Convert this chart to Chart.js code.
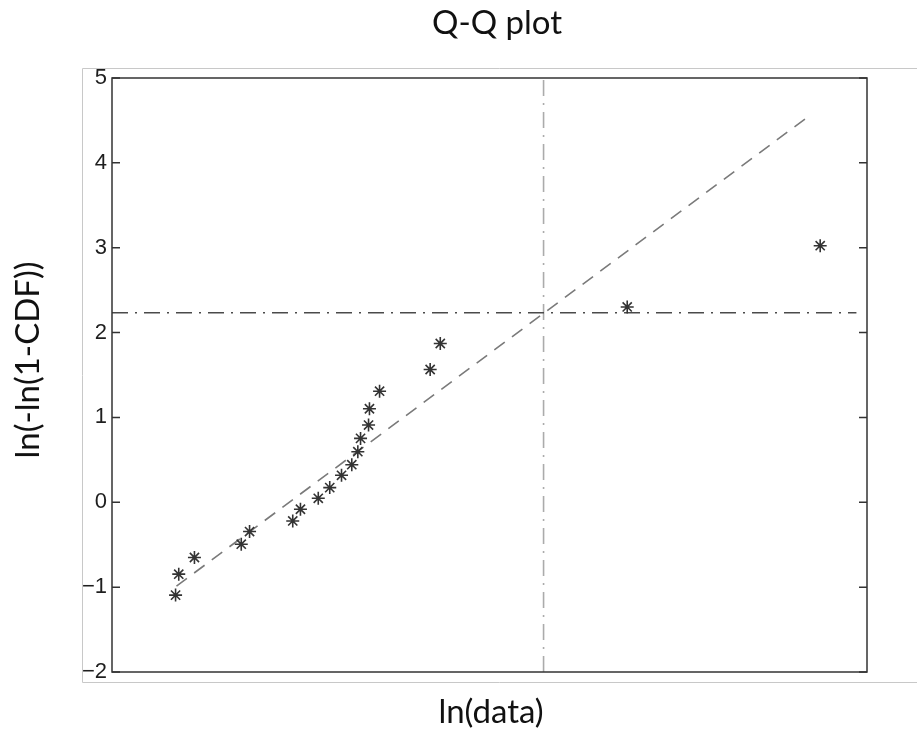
<!DOCTYPE html>
<html>
<head>
<meta charset="utf-8">
<title>Q-Q plot</title>
<script src="https://cdn.jsdelivr.net/npm/chart.js"></script>
<style>
    body { margin: 0; background: #fff; }
    #wrap { width: 917px; height: 731px; }
</style>
</head>
<body>
<div id="wrap"><canvas id="qqChart" width="917" height="731"></canvas></div>
<script>
// sample quantiles: ln(data) vs ln(-ln(1-CDF))
const sampleX = [0.921, 0.942, 1.046, 1.356, 1.411, 1.697, 1.748, 1.866, 1.942, 2.020,
                 2.088, 2.128, 2.146, 2.199, 2.205, 2.272, 2.607, 2.674, 3.912, 5.190];
const sampleY = [-1.094, -0.847, -0.651, -0.494, -0.345, -0.220, -0.082, 0.047, 0.173, 0.318,
                 0.443, 0.596, 0.753, 0.910, 1.102, 1.309, 1.565, 1.871, 2.302, 3.024];

// fitted straight line (end points)
const fitX = [0.927, 5.126];
const fitY = [-0.988, 4.565];

// threshold cross lines
const cutX = 3.358;
const cutY = 2.235;
const cutLineEndX = 5.43;

// axis limits
const xRange = [0.5, 5.5];
const yRange = [-2, 5];

const titleText = 'Q-Q plot';
const xLabel = 'ln(data)';
const yLabel = 'ln(-ln(1-CDF))';

document.addEventListener('DOMContentLoaded', function () {
    const labelFont = '33px Lato, "Open Sans", sans-serif';

    // box around the axes + inward tick marks, plus the outer frame
    const framePlugin = {
        id: 'frame',
        beforeDraw(chart) {
            const ctx = chart.ctx;
            ctx.save();
            ctx.strokeStyle = '#c8c8c8';
            ctx.lineWidth = 1;
            ctx.beginPath();
            ctx.moveTo(917, 68.5);
            ctx.lineTo(82.5, 68.5);
            ctx.lineTo(82.5, 682.5);
            ctx.lineTo(917, 682.5);
            ctx.stroke();
            ctx.restore();
        },
        afterDatasetsDraw(chart) {
            const { ctx, chartArea: a, scales: { x, y } } = chart;
            ctx.save();
            ctx.strokeStyle = '#333';
            ctx.lineWidth = 1.5;
            ctx.strokeRect(a.left, a.top, a.right - a.left, a.bottom - a.top);
            ctx.beginPath();
            x.ticks.filter(t => Number.isInteger(t.value)).forEach(t => {
                const px = x.getPixelForValue(t.value);
                ctx.moveTo(px, a.top);
                ctx.lineTo(px, a.top + 8);
                ctx.moveTo(px, a.bottom);
                ctx.lineTo(px, a.bottom - 8);
            });
            y.ticks.forEach(t => {
                const py = y.getPixelForValue(t.value);
                ctx.moveTo(a.left, py);
                ctx.lineTo(a.left + 8, py);
                ctx.moveTo(a.right, py);
                ctx.lineTo(a.right - 8, py);
            });
            ctx.stroke();
            ctx.restore();
        }
    };

    // title and axis labels
    const labelPlugin = {
        id: 'labels',
        afterDraw(chart) {
            const ctx = chart.ctx;
            ctx.save();
            ctx.fillStyle = '#111';
            ctx.font = labelFont;
            ctx.textAlign = 'center';
            ctx.textBaseline = 'alphabetic';
            ctx.fillText(titleText, 497, 34);
            ctx.fillText(xLabel, 491, 723);
            ctx.translate(39, 360);
            ctx.rotate(-Math.PI / 2);
            ctx.fillText(yLabel, 0, 0);
            ctx.restore();
        }
    };

    const ctx = document.getElementById('qqChart').getContext('2d');
    const qqChart = new Chart(ctx, {
        type: 'scatter',
        data: {
            datasets: [
                {
                    label: 'samples',
                    data: sampleX.map((v, i) => ({ x: v, y: sampleY[i] })),
                    pointStyle: 'star',
                    pointRadius: 6.5,
                    borderColor: '#333',
                    backgroundColor: '#333',
                    borderWidth: 1.6,
                    order: 0
                },
                {
                    label: 'fit',
                    type: 'line',
                    data: fitX.map((v, i) => ({ x: v, y: fitY[i] })),
                    borderColor: '#7a7a7a',
                    borderWidth: 1.6,
                    borderDash: [13, 9],
                    pointRadius: 0,
                    order: 1
                },
                {
                    label: 'cutY',
                    type: 'line',
                    data: [{ x: xRange[0], y: cutY }, { x: cutLineEndX, y: cutY }],
                    borderColor: '#4a4a4a',
                    borderWidth: 1.5,
                    borderDash: [16, 7, 2, 7],
                    pointRadius: 0,
                    order: 2
                },
                {
                    label: 'cutX',
                    type: 'line',
                    data: [{ x: cutX, y: yRange[0] }, { x: cutX, y: yRange[1] }],
                    borderColor: '#ababab',
                    borderWidth: 1.6,
                    borderDash: [16, 7, 2, 7],
                    pointRadius: 0,
                    order: 3
                }
            ]
        },
        options: {
            responsive: false,
            animation: false,
            layout: { padding: { top: 78, right: 50, bottom: 0, left: 0 } },
            plugins: {
                legend: { display: false },
                tooltip: { enabled: false }
            },
            scales: {
                x: {
                    type: 'linear',
                    min: xRange[0],
                    max: xRange[1],
                    ticks: { display: false, stepSize: 1 },
                    grid: { display: false },
                    border: { display: false },
                    afterFit(scale) { scale.height = 59; }
                },
                y: {
                    type: 'linear',
                    min: yRange[0],
                    max: yRange[1],
                    ticks: {
                        stepSize: 1,
                        padding: 5,
                        color: '#1e1e1e',
                        font: { family: '"Liberation Sans", Arial, sans-serif', size: 22 },
                        callback: v => String(v).replace('-', '\u2212')
                    },
                    grid: { drawOnChartArea: false, drawTicks: false },
                    border: { display: false },
                    afterFit(scale) { scale.width = 112; }
                }
            }
        },
        plugins: [framePlugin, labelPlugin]
    });
});
</script>
</body>
</html>
